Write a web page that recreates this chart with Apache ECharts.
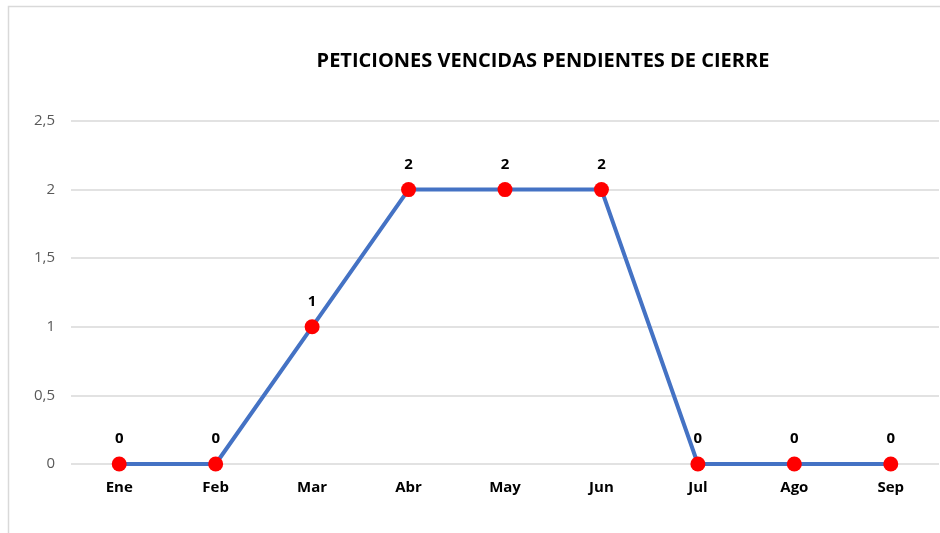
<!DOCTYPE html>
<html>
<head>
<meta charset="utf-8">
<script src="https://cdn.jsdelivr.net/npm/echarts@6/dist/echarts.min.js"></script>
<style>html,body{margin:0;padding:0;background:#fff}#c{width:940px;height:533px}</style>
</head>
<body>
<div id="c"></div>
<script>
const categories = ['Ene','Feb','Mar','Abr','May','Jun','Jul','Ago','Sep'];
const values = [0,0,1,2,2,2,0,0,0];
const yTicks = [0,0.5,1,1.5,2,2.5];
const titleText = 'PETICIONES VENCIDAS PENDIENTES DE CIERRE';

const chart = echarts.init(document.getElementById('c'));
chart.setOption({
  animation:false,
  backgroundColor:'#fff',
  graphic:[{type:'rect',shape:{x:8.5,y:6.5,width:1000,height:1000},style:{fill:'none',stroke:'#d9d9d9',lineWidth:1.5},silent:true}],
  title:{text:titleText,left:538,textAlign:'center',top:46,textStyle:{fontFamily:'Open Sans',fontWeight:'bold',fontSize:20,color:'#000'}},
  grid:{left:71,right:1,top:121,bottom:69},
  xAxis:{type:'category',data:categories,boundaryGap:true,
    axisLine:{show:false},axisTick:{show:false},
    axisLabel:{margin:16,fontFamily:'Open Sans',fontWeight:'bold',fontSize:15,color:'#000'}},
  yAxis:{type:'value',min:0,max:2.5,interval:0.5,
    axisLine:{show:false},axisTick:{show:false},
    splitLine:{lineStyle:{color:'#d9d9d9',width:1.5}},
    axisLabel:{margin:16,fontFamily:'Open Sans',fontSize:15,color:'#595959',
      formatter:v=>{const t=yTicks.find(x=>Math.abs(x-v)<1e-9);return String(t!==undefined?t:v).replace('.',',');}}},
  series:[{type:'line',data:values,
    lineStyle:{color:'#4472C4',width:4},
    itemStyle:{color:'#ff0000'},
    symbol:'circle',symbolSize:15,
    label:{show:true,position:'top',distance:10,fontFamily:'Open Sans',fontWeight:'bold',fontSize:15,color:'#000'}}]
});
</script>
</body>
</html>
